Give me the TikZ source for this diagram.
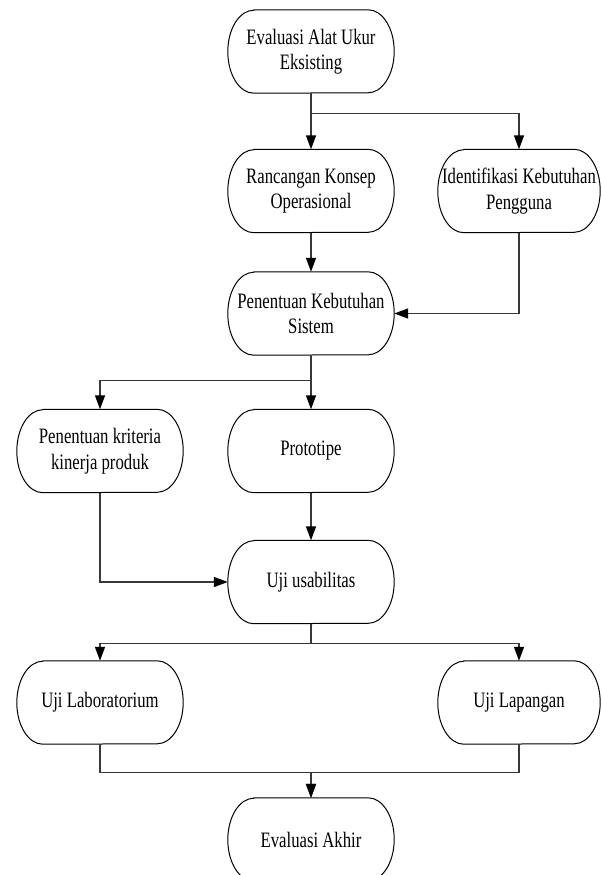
\documentclass[tikz,border=0pt]{standalone}
\usepackage{fontspec}
\setmainfont{Liberation Serif}[FakeStretch=0.76]
\usetikzlibrary{arrows.meta}
\begin{document}
\begin{tikzpicture}[x=1pt,y=-1pt,
  stad/.style={minimum width=166pt, minimum height=83pt, inner sep=0pt, align=center,
    font=\fontsize{22}{25.5}\selectfont},
  stadn/.style={stad, minimum width=162pt},
  conn/.style={draw=black!78, line width=1.4pt, -{Triangle[length=14pt,width=10pt,color=black]}},
  outline/.style={draw=black, line width=1pt}]
\useasboundingbox (0,0) rectangle (602,875);
\node[stad]  (n1)  at (311,51.5)  {Evaluasi Alat Ukur\\Eksisting};
\node[stad]  (n2)  at (311,191)   {Rancangan Konsep\\Operasional};
\node[stadn] (n3)  at (519,191)   {Identifikasi Kebutuhan\\Pengguna};
\node[stad]  (n4)  at (311,313.5) {Penentuan Kebutuhan\\Sistem};
\node[stad]  (n5)  at (100,451)   {Penentuan kriteria\\kinerja produk};
\node[stad]  (n6)  at (311,451)   {Prototipe};
\node[stad]  (n7)  at (311,582)   {Uji usabilitas};
\node[stad]  (n8)  at (100,702.5) {Uji Laboratorium};
\node[stadn] (n9)  at (519,702.5) {Uji Lapangan};
\node[stad]  (n10) at (311,839.5) {Evaluasi Akhir};
\foreach \n in {n1,n2,n3,n4,n5,n6,n7,n8,n9,n10}{
  \draw[outline] ([xshift=26pt]\n.north west) -- ([xshift=-26pt]\n.north east)
    arc[start angle=90,end angle=-90,x radius=26pt,y radius=41.5pt]
    -- ([xshift=26pt]\n.south west)
    arc[start angle=270,end angle=90,x radius=26pt,y radius=41.5pt] -- cycle;
}
\draw[conn] (n1.south) -- (n2.north);
\draw[conn] (n1.south) -- ++(0,20) -| (n3.north);
\draw[conn] (n2.south) -- (n4.north);
\draw[conn] (n3.south) |- (n4.east);
\draw[conn] (n4.south) -- (n6.north);
\draw[conn] (n4.south) -- ++(0,25) -| (n5.north);
\draw[conn] (n6.south) -- (n7.north);
\draw[conn] (n5.south) |- (n7.west);
\draw[conn] (n7.south) -- ++(0,20) -| (n8.north);
\draw[conn] (n7.south) -- ++(0,20) -| (n9.north);
\draw[conn] (n8.south) -- ++(0,28) -| (n10.north);
\draw[conn] (n9.south) -- ++(0,28) -| (n10.north);
\end{tikzpicture}
\end{document}
